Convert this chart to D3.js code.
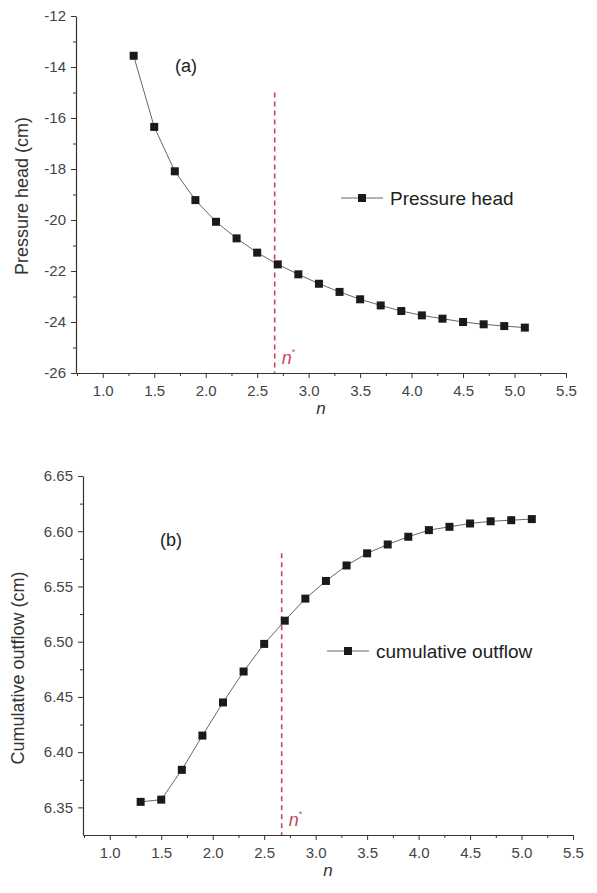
<!DOCTYPE html>
<html>
<head>
<meta charset="utf-8">
<script src="https://cdn.jsdelivr.net/npm/d3@7"></script>
<style>
body { margin: 0; background: #fff; }
svg text { font-family: "Liberation Sans", Arial, sans-serif; fill: #333; }
</style>
</head>
<body>
<div class="diagram"></div>
<script>
// values
const nValues = [1.3, 1.5, 1.7, 1.9, 2.1, 2.3, 2.5, 2.7, 2.9, 3.1, 3.3, 3.5, 3.7, 3.9, 4.1, 4.3, 4.5, 4.7, 4.9, 5.1];
const pressureHead = [-13.56, -16.35, -18.09, -19.22, -20.07, -20.72, -21.28, -21.74, -22.13, -22.50, -22.82, -23.11, -23.35, -23.57, -23.74, -23.87, -24.0, -24.09, -24.16, -24.22];
const cumOutflow = [6.355, 6.357, 6.384, 6.415, 6.445, 6.473, 6.498, 6.519, 6.539, 6.555, 6.569, 6.580, 6.588, 6.595, 6.601, 6.604, 6.607, 6.609, 6.610, 6.611];
const xTicks = [1.0, 1.5, 2.0, 2.5, 3.0, 3.5, 4.0, 4.5, 5.0, 5.5];
const headTicks = [-12, -14, -16, -18, -20, -22, -24, -26];
const outflowTicks = [6.35, 6.40, 6.45, 6.50, 6.55, 6.60, 6.65];
const nStar = 2.67;

const w = 597, h = 893;
const svg = d3.select(".diagram").append("svg")
  .attr("width", w)
  .attr("height", h);

function panel(p) {
  const x = d3.scaleLinear().domain(p.xDomain).range(p.xRange);
  const y = d3.scaleLinear().domain(p.yDomain).range(p.yRange);
  const g = svg.append("g");

  // minor ticks
  const xMinor = d3.range(0.75, 5.5, 0.25).filter(v => Math.abs(v * 2 - Math.round(v * 2)) > 0.01);
  g.append("g")
    .attr("transform", "translate(0," + p.yRange[0] + ")")
    .call(d3.axisBottom(x).tickValues(xMinor).tickSize(3).tickFormat(""))
    .call(a => a.select(".domain").remove())
    .call(a => a.selectAll("line").attr("stroke", "#333"));
  g.append("g")
    .attr("transform", "translate(" + p.xRange[0] + ",0)")
    .call(d3.axisLeft(y).tickValues(p.yMinor).tickSize(3).tickFormat(""))
    .call(a => a.select(".domain").remove())
    .call(a => a.selectAll("line").attr("stroke", "#333"));

  const xAxis = g.append("g")
    .attr("transform", "translate(0," + p.yRange[0] + ")")
    .call(d3.axisBottom(x).tickValues(xTicks).tickSize(5).tickSizeOuter(0).tickPadding(7).tickFormat(d3.format(".1f")));
  const yAxis = g.append("g")
    .attr("transform", "translate(" + p.xRange[0] + ",0)")
    .call(d3.axisLeft(y).tickValues(p.yTicks).tickSize(5).tickSizeOuter(0).tickPadding(5).tickFormat(p.yFormat));
  [xAxis, yAxis].forEach(a => {
    a.select(".domain").attr("stroke", "#333").attr("stroke-width", 1.2);
    a.selectAll("line").attr("stroke", "#333");
    a.selectAll("text").attr("font-size", 15).style("fill", "#444");
  });

  // n* dashed line
  g.append("line")
    .attr("x1", x(nStar)).attr("x2", x(nStar))
    .attr("y1", y(p.starTop)).attr("y2", p.yRange[0])
    .attr("stroke", "#c4465c")
    .attr("stroke-width", 1.6)
    .attr("stroke-dasharray", "5,4");
  const star = g.append("text")
    .attr("x", x(nStar) + 7)
    .attr("y", p.yRange[0] - 9)
    .attr("font-size", 18)
    .attr("font-style", "italic")
    .style("fill", "#c4465c")
    .text("n");
  star.append("tspan")
    .attr("dy", -9)
    .attr("font-size", 9)
    .attr("font-style", "normal")
    .text("*");

  const line = d3.line()
    .x((d, i) => x(nValues[i]))
    .y(d => y(d));
  g.append("path")
    .datum(p.values)
    .attr("fill", "none")
    .attr("stroke", "#555")
    .attr("stroke-width", 0.9)
    .attr("d", line);
  g.selectAll(".pt")
    .data(p.values)
    .enter()
    .append("rect")
    .attr("x", (d, i) => x(nValues[i]) - 4)
    .attr("y", d => y(d) - 4)
    .attr("width", 8)
    .attr("height", 8)
    .attr("fill", "#1a1a1a");

  // panel label
  g.append("text")
    .attr("x", p.tag[0])
    .attr("y", p.tag[1])
    .attr("text-anchor", "middle")
    .attr("font-size", 18)
    .style("fill", "#222")
    .text(p.tagText);

  // legend
  const lg = g.append("g").attr("transform", "translate(" + p.legend[0] + "," + p.legend[1] + ")");
  lg.append("line").attr("x1", 0).attr("x2", 42).attr("y1", 0).attr("y2", 0)
    .attr("stroke", "#555").attr("stroke-width", 0.9);
  lg.append("rect").attr("x", 17).attr("y", -4).attr("width", 8).attr("height", 8).attr("fill", "#1a1a1a");
  lg.append("text").attr("x", 49).attr("y", 7).attr("font-size", 19).style("fill", "#222").text(p.legendText);

  // axis titles
  g.append("text")
    .attr("transform", "translate(" + p.yTitle[1] + "," + p.yTitle[2] + ") rotate(-90)")
    .attr("text-anchor", "middle")
    .attr("font-size", 18)
    .style("fill", "#333")
    .text(p.yTitle[0]);
  g.append("text")
    .attr("x", (p.xRange[0] + p.xRange[1]) / 2)
    .attr("y", p.yRange[0] + 41)
    .attr("text-anchor", "middle")
    .attr("font-size", 17)
    .attr("font-style", "italic")
    .style("fill", "#333")
    .text("n");
}

panel({
  values: pressureHead,
  xDomain: [0.74, 5.5], xRange: [76, 566],
  yDomain: [-26, -12], yRange: [373, 16],
  yTicks: headTicks,
  yMinor: [-13, -15, -17, -19, -21, -23, -25],
  yFormat: d => String(d),
  starTop: -15,
  tag: [186, 72], tagText: "(a)",
  legend: [341, 198], legendText: "Pressure head",
  yTitle: ["Pressure head (cm)", 28, 196]
});

panel({
  values: cumOutflow,
  xDomain: [0.74, 5.5], xRange: [83, 573],
  yDomain: [6.325, 6.65], yRange: [835, 476],
  yTicks: outflowTicks,
  yMinor: [6.375, 6.425, 6.475, 6.525, 6.575, 6.625],
  yFormat: d3.format(".2f"),
  starTop: 6.58,
  tag: [171, 546], tagText: "(b)",
  legend: [327, 651], legendText: "cumulative outflow",
  yTitle: ["Cumulative outflow (cm)", 24, 668]
});
</script>
</body>
</html>
